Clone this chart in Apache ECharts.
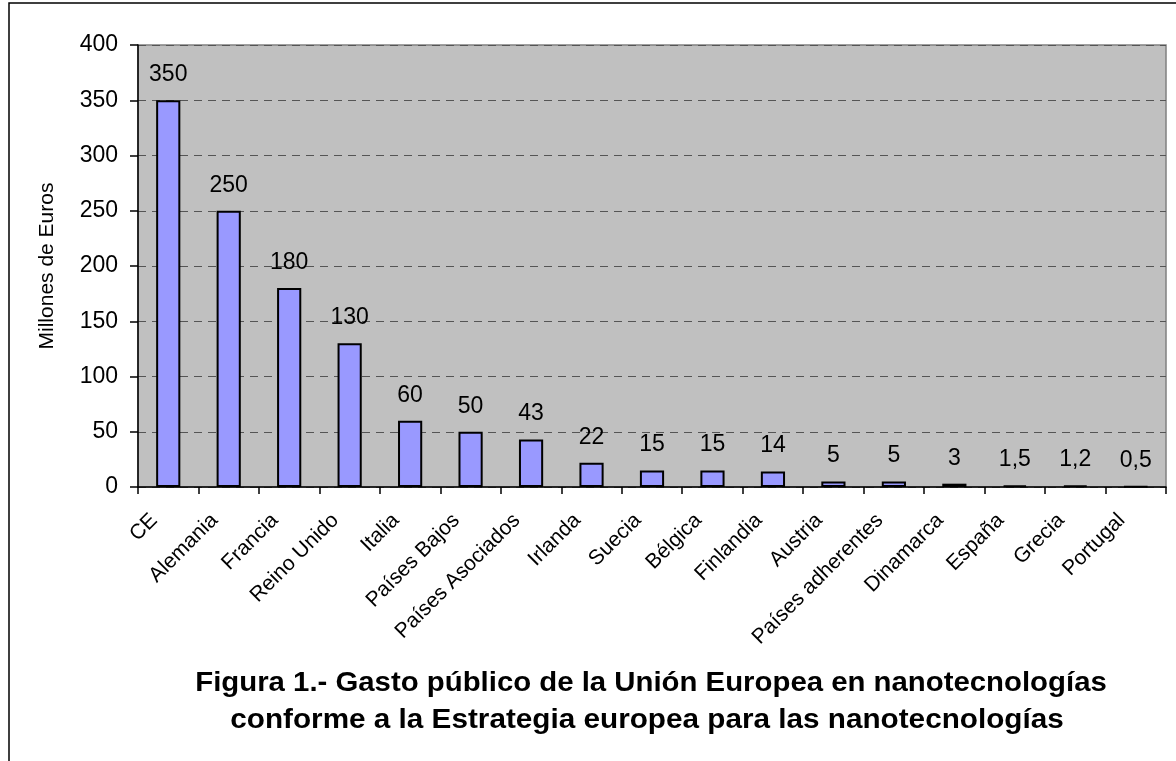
<!DOCTYPE html>
<html><head><meta charset="utf-8">
<script src="https://cdn.jsdelivr.net/npm/echarts@6/dist/echarts.min.js"></script>
<style>html,body{margin:0;padding:0;background:#fff}#c{width:1176px;height:761px}</style>
</head><body><div id="c"></div>
<script>
const categories = ['CE','Alemania','Francia','Reino Unido','Italia','Países Bajos','Países Asociados','Irlanda','Suecia','Bélgica','Finlandia','Austria','Países adherentes','Dinamarca','España','Grecia','Portugal'];
const values = [350,250,180,130,60,50,43,22,15,15,14,5,5,3,1.5,1.2,0.5];
const yTicks = [0,50,100,150,200,250,300,350,400];
const titleLines = ['Figura 1.- Gasto público de la Unión Europea en nanotecnologías','conforme a la Estrategia europea para las nanotecnologías'];
const yName = 'Millones de Euros';

const chart = echarts.init(document.getElementById('c'), null, {renderer:'canvas'});
const font = 'Liberation Sans, Arial, sans-serif';
chart.setOption({
  animation:false,
  backgroundColor:'#fff',
  grid:{left:138,right:10,top:45,bottom:274,show:true,backgroundColor:'#C0C0C0',borderColor:'#808080',borderWidth:1.5},
  xAxis:{type:'category',data:categories,
    axisLine:{lineStyle:{color:'#000',width:1.5}},
    axisTick:{show:true,length:7,lineStyle:{color:'#000',width:1.5}},
    axisLabel:{rotate:45,fontSize:21,color:'#000',fontFamily:font,margin:16,padding:[0,20,0,0],interval:0}},
  yAxis:{type:'value',min:yTicks[0],max:yTicks[yTicks.length-1],interval:50,
    name:yName,nameLocation:'middle',nameGap:80,nameRotate:90,
    nameTextStyle:{fontSize:21,color:'#000',fontFamily:font},
    axisLine:{show:true,lineStyle:{color:'#000',width:1.5}},
    axisTick:{show:true,length:8,lineStyle:{color:'#000',width:1.5}},
    axisLabel:{fontSize:23,color:'#000',fontFamily:font,margin:20},
    splitLine:{show:true,lineStyle:{color:'#555',type:[8,6],width:1}}},
  series:[{type:'bar',data:values,barWidth:'40%',
    itemStyle:{color:'#9999FF',borderColor:'#000',borderWidth:2},
    label:{show:true,position:'top',distance:14,fontSize:23,color:'#000',fontFamily:font,
      formatter:p=>String(p.value).replace('.',',')}}],
  graphic:[
    {type:'polyline',shape:{points:[[9,761],[9,3],[1176,3]]},style:{stroke:'#000',lineWidth:1.5,fill:null},silent:true},
    {type:'text',x:651,y:684,scaleX:1.087,style:{text:titleLines[0],font:'bold 27px '+font,fill:'#000',textAlign:'center',textVerticalAlign:'middle'}},
    {type:'text',x:647,y:721,scaleX:1.1,style:{text:titleLines[1],font:'bold 27px '+font,fill:'#000',textAlign:'center',textVerticalAlign:'middle'}}
  ]
});
</script></body></html>
